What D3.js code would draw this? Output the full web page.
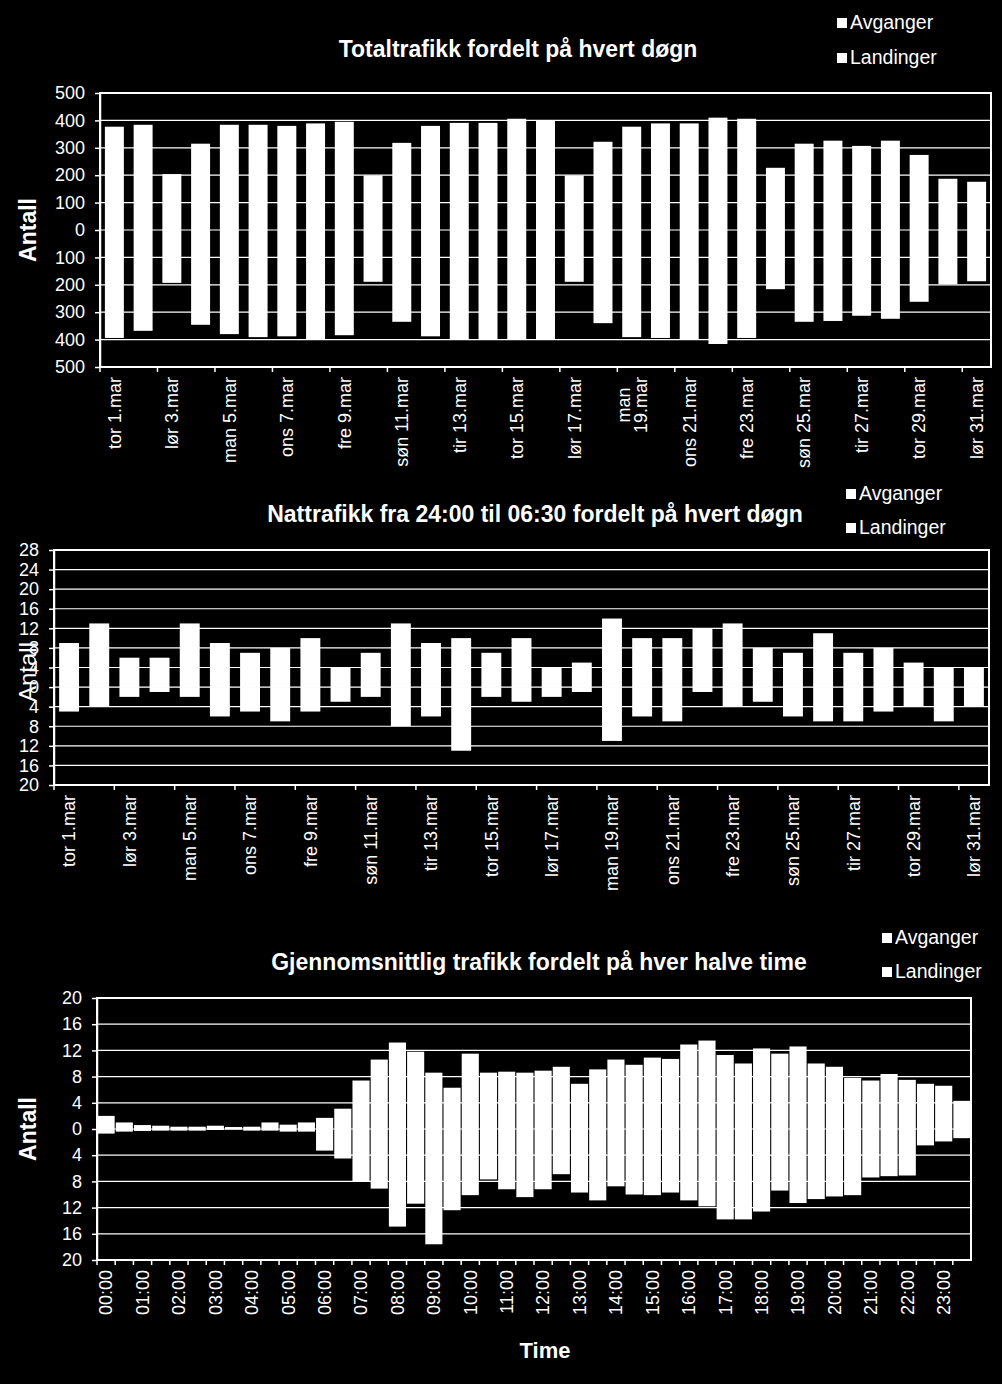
<!DOCTYPE html>
<html>
<head>
<meta charset="utf-8">
<script src="https://cdn.jsdelivr.net/npm/d3@7"></script>
<style>
  body { margin: 0; background: #000; }
  svg text { font-family: Arial, "Liberation Sans", sans-serif; fill: #fff; }
</style>
</head>
<body>
<svg id="chart"></svg>
<script>
const width = 1002;
const height = 1384;

// categories
const days = [
  "tor 1.mar", "fre 2.mar", "lør 3.mar", "søn 4.mar", "man 5.mar", "tir 6.mar", "ons 7.mar",
  "tor 8.mar", "fre 9.mar", "lør 10.mar", "søn 11.mar", "man 12.mar", "tir 13.mar", "ons 14.mar",
  "tor 15.mar", "fre 16.mar", "lør 17.mar", "søn 18.mar", "man 19.mar", "tir 20.mar", "ons 21.mar",
  "tor 22.mar", "fre 23.mar", "lør 24.mar", "søn 25.mar", "man 26.mar", "tir 27.mar", "ons 28.mar",
  "tor 29.mar", "fre 30.mar", "lør 31.mar"
];
const halfHours = [
  "00:00", "00:30", "01:00", "01:30", "02:00", "02:30", "03:00", "03:30",
  "04:00", "04:30", "05:00", "05:30", "06:00", "06:30", "07:00", "07:30",
  "08:00", "08:30", "09:00", "09:30", "10:00", "10:30", "11:00", "11:30",
  "12:00", "12:30", "13:00", "13:30", "14:00", "14:30", "15:00", "15:30",
  "16:00", "16:30", "17:00", "17:30", "18:00", "18:30", "19:00", "19:30",
  "20:00", "20:30", "21:00", "21:30", "22:00", "22:30", "23:00", "23:30"
];

// series: Avganger drawn upward, Landinger downward
const totalAvganger = [377, 384, 204, 315, 384, 384, 380, 389, 395, 199, 318, 380, 391, 391, 406, 400,
  199, 322, 377, 389, 389, 410, 406, 227, 315, 326, 307, 326, 274, 187, 176];
const totalLandinger = [394, 368, 193, 346, 380, 391, 388, 399, 384, 189, 335, 388, 399, 399, 399, 399,
  189, 340, 391, 394, 399, 416, 394, 216, 335, 332, 313, 324, 262, 198, 187];

const nightAvganger = [9, 13, 6, 6, 13, 9, 7, 8, 10, 4, 7, 13, 9, 10, 7, 10, 4, 5, 14, 10, 10, 12, 13, 8,
  7, 11, 7, 8, 5, 4, 4];
const nightLandinger = [5, 4, 2, 1, 2, 6, 5, 7, 5, 3, 2, 8, 6, 13, 2, 3, 2, 1, 11, 6, 7, 1, 4, 3,
  6, 7, 7, 5, 4, 7, 4];

const avgAvganger = [2.0, 1.0, 0.6, 0.5, 0.35, 0.35, 0.5, 0.3, 0.35, 1.0, 0.66, 1.0,
  1.7, 3.1, 7.4, 10.6, 13.2, 11.8, 8.6, 6.3, 11.5, 8.6, 8.75, 8.6,
  8.9, 9.5, 6.9, 9.1, 10.6, 9.8, 10.9, 10.7, 12.9, 13.5, 11.3, 10.0,
  12.3, 11.5, 12.6, 10.0, 9.5, 7.8, 7.4, 8.4, 7.5, 6.9, 6.6, 4.3];
const avgLandinger = [0.7, 0.4, 0.3, 0.25, 0.25, 0.25, 0.15, 0.1, 0.25, 0.25, 0.4, 0.4,
  3.3, 4.5, 8.0, 9.1, 14.9, 11.4, 17.6, 12.4, 10.1, 7.7, 9.2, 10.4,
  9.2, 6.9, 9.7, 10.9, 8.75, 10.0, 10.1, 9.7, 10.9, 11.8, 13.8, 13.8,
  12.6, 9.4, 11.3, 10.7, 10.3, 10.1, 7.4, 7.2, 7.1, 2.5, 1.9, 1.4];

// tick values
const totalTicks = [-500, -400, -300, -200, -100, 0, 100, 200, 300, 400, 500];
const nightTicks = [-20, -16, -12, -8, -4, 0, 4, 8, 12, 16, 20, 24, 28];
const avgTicks = [-20, -16, -12, -8, -4, 0, 4, 8, 12, 16, 20];

const seriesNames = ["Avganger", "Landinger"];

const svg = d3.select("#chart")
  .attr("width", width)
  .attr("height", height)
  .style("background", "#000");

drawChart({
  title: "Totaltrafikk fordelt på hvert døgn", titleX: 518, titleY: 57,
  legendX: 837, legendY: [29, 64],
  x0: 100, x1: 991, y0: 93, y1: 367,
  cats: days, up: totalAvganger, down: totalLandinger,
  yDomain: [-500, 500], yTicks: totalTicks, pad: 0.34,
  tickEvery: 2, labelEvery: 2, wrap: { "man 19.mar": ["man", "19.mar"] },
  yTitleX: 36, yTitleBold: true
});

drawChart({
  title: "Nattrafikk fra 24:00 til 06:30 fordelt på hvert døgn", titleX: 535, titleY: 522,
  legendX: 846, legendY: [500, 534],
  x0: 54, x1: 989, y0: 550, y1: 785,
  cats: days, up: nightAvganger, down: nightLandinger,
  yDomain: [-20, 28], yTicks: nightTicks, pad: 0.34,
  tickEvery: 2, labelEvery: 2, wrap: {},
  yTitleX: 36, yTitleY: 672, yTitleBold: false
});

drawChart({
  title: "Gjennomsnittlig trafikk fordelt på hver halve time", titleX: 539, titleY: 970,
  legendX: 882, legendY: [944, 978],
  x0: 97, x1: 971, y0: 998, y1: 1260,
  cats: halfHours, up: avgAvganger, down: avgLandinger,
  yDomain: [-20, 20], yTicks: avgTicks, pad: 0.06,
  tickEvery: 1, labelEvery: 2, wrap: {},
  yTitleX: 36, yTitleBold: true,
  xTitle: "Time", xTitleX: 545, xTitleY: 1358
});

function drawChart(c) {
  const g = svg.append("g");

  const x = d3.scaleBand()
    .domain(c.cats)
    .range([c.x0, c.x1])
    .paddingInner(c.pad)
    .paddingOuter(c.pad / 2);
  const y = d3.scaleLinear().domain(c.yDomain).range([c.y1, c.y0]);

  // gridlines
  g.append("g").selectAll("line")
    .data(c.yTicks)
    .join("line")
    .attr("x1", c.x0).attr("x2", c.x1)
    .attr("y1", d => y(d)).attr("y2", d => y(d))
    .attr("stroke", "#fff")
    .attr("stroke-width", 1.2);

  // Avganger (up) and Landinger (down)
  g.append("g").selectAll("rect")
    .data(c.cats)
    .join("rect")
    .attr("x", d => x(d))
    .attr("width", x.bandwidth())
    .attr("y", (d, i) => y(c.up[i]))
    .attr("height", (d, i) => y(0) - y(c.up[i]))
    .attr("fill", "#fff");
  g.append("g").selectAll("rect")
    .data(c.cats)
    .join("rect")
    .attr("x", d => x(d))
    .attr("width", x.bandwidth())
    .attr("y", y(0))
    .attr("height", (d, i) => y(-c.down[i]) - y(0))
    .attr("fill", "#fff");

  // plot border
  g.append("rect")
    .attr("x", c.x0).attr("y", c.y0)
    .attr("width", c.x1 - c.x0).attr("height", c.y1 - c.y0)
    .attr("fill", "none")
    .attr("stroke", "#fff")
    .attr("stroke-width", 2);

  // y axis
  g.append("g")
    .attr("transform", `translate(${c.x0},0)`)
    .call(d3.axisLeft(y).tickValues(c.yTicks).tickSize(5).tickSizeOuter(0).tickPadding(10)
      .tickFormat(d => Math.abs(d)))
    .attr("font-family", null)
    .attr("font-size", 18)
    .call(a => a.selectAll("line, path").attr("stroke", "#fff").attr("stroke-width", 1.5))
    .call(a => a.selectAll("text").attr("fill", "#fff"));

  // x ticks at category boundaries
  const step = x.step();
  const boundary = i => x(c.cats[0]) - step * c.pad / 2 + i * step;
  const tickIdx = d3.range(0, c.cats.length, c.tickEvery);
  g.append("g").selectAll("line")
    .data(tickIdx)
    .join("line")
    .attr("x1", i => boundary(i)).attr("x2", i => boundary(i))
    .attr("y1", c.y1).attr("y2", c.y1 + 5)
    .attr("stroke", "#fff")
    .attr("stroke-width", 1.5);

  // x labels, rotated
  const labelCats = c.cats.filter((d, i) => i % c.labelEvery === 0);
  labelCats.forEach(cat => {
    const cx = x(cat) + x.bandwidth() / 2;
    const t = g.append("text")
      .attr("transform", `translate(${cx},${c.y1 + 10}) rotate(-90)`)
      .attr("font-size", 18);
    const lines = c.wrap[cat];
    if (lines) {
      const tmp = t.append("tspan").text(lines[1]);
      const w = tmp.node().getComputedTextLength();
      tmp.remove();
      t.attr("text-anchor", "middle");
      lines.forEach((ln, k) => {
        t.append("tspan")
          .attr("x", -w / 2)
          .attr("y", (k - (lines.length - 1) / 2) * 17)
          .attr("dy", "0.35em")
          .text(ln);
      });
    } else {
      t.attr("text-anchor", "end").attr("dy", "0.35em").text(cat);
    }
  });

  // y title
  const yTitleY = c.yTitleY || (c.y0 + c.y1) / 2;
  g.append("text")
    .attr("transform", `translate(${c.yTitleX},${yTitleY}) rotate(-90)`)
    .attr("text-anchor", "middle")
    .attr("font-size", c.yTitleBold ? 23 : 24)
    .attr("font-weight", c.yTitleBold ? "bold" : "normal")
    .text("Antall");

  // chart title
  g.append("text")
    .attr("x", c.titleX).attr("y", c.titleY)
    .attr("text-anchor", "middle")
    .attr("font-size", 23)
    .attr("font-weight", "bold")
    .text(c.title);

  // x title
  if (c.xTitle) {
    g.append("text")
      .attr("x", c.xTitleX).attr("y", c.xTitleY)
      .attr("text-anchor", "middle")
      .attr("font-size", 22)
      .attr("font-weight", "bold")
      .text(c.xTitle);
  }

  // legend
  const lg = g.append("g").selectAll("g")
    .data(seriesNames)
    .join("g")
    .attr("transform", (d, i) => `translate(${c.legendX},${c.legendY[i]})`);
  lg.append("rect")
    .attr("x", 0).attr("y", -11)
    .attr("width", 10).attr("height", 10)
    .attr("fill", "#fff");
  lg.append("text")
    .attr("x", 13).attr("y", 0)
    .attr("font-size", 19.5)
    .text(d => d);
}
</script>
</body>
</html>
